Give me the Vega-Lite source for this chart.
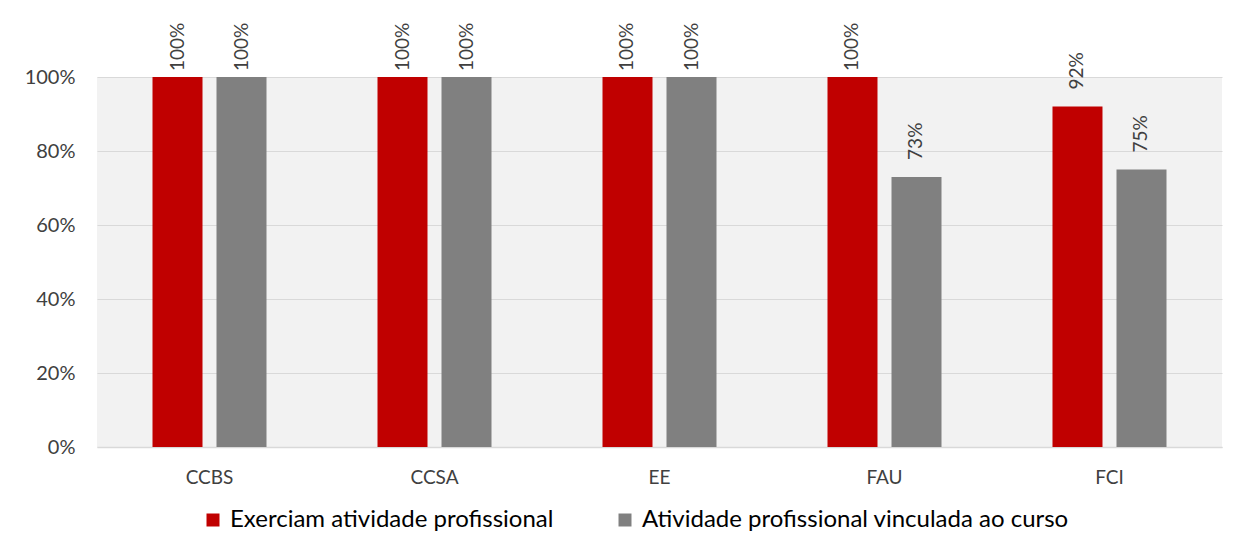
{
  "$schema": "https://vega.github.io/schema/vega-lite/v6.json",
  "autosize": {"type": "none"},
  "width": 1125,
  "height": 370,
  "padding": {"left": 97, "top": 77, "right": 19, "bottom": 107},
  "background": "white",
  "config": {
    "view": {"fill": "#f2f2f2", "stroke": null},
    "font": "Lato"
  },
  "data": {
    "values": [
      {"curso": "CCBS", "serie": "Exerciam atividade profissional", "valor": 1.0},
      {"curso": "CCBS", "serie": "Atividade profissional vinculada ao curso", "valor": 1.0},
      {"curso": "CCSA", "serie": "Exerciam atividade profissional", "valor": 1.0},
      {"curso": "CCSA", "serie": "Atividade profissional vinculada ao curso", "valor": 1.0},
      {"curso": "EE", "serie": "Exerciam atividade profissional", "valor": 1.0},
      {"curso": "EE", "serie": "Atividade profissional vinculada ao curso", "valor": 1.0},
      {"curso": "FAU", "serie": "Exerciam atividade profissional", "valor": 1.0},
      {"curso": "FAU", "serie": "Atividade profissional vinculada ao curso", "valor": 0.73},
      {"curso": "FCI", "serie": "Exerciam atividade profissional", "valor": 0.92},
      {"curso": "FCI", "serie": "Atividade profissional vinculada ao curso", "valor": 0.75}
    ]
  },
  "encoding": {
    "x": {
      "field": "curso", "type": "nominal", "sort": null,
      "scale": {"paddingInner": 0.4933, "paddingOuter": 0.2467},
      "axis": {
        "title": null, "labelAngle": 0, "labelFontSize": 19, "labelColor": "#404040",
        "labelPadding": 21, "ticks": false, "domainColor": "#d9d9d9", "domainWidth": 1.5,
        "labelFont": "Lato"
      }
    },
    "xOffset": {
      "field": "serie", "type": "nominal", "sort": ["Exerciam atividade profissional", "Atividade profissional vinculada ao curso"],
      "scale": {"paddingInner": 0.21875, "paddingOuter": 0}
    },
    "y": {
      "field": "valor", "type": "quantitative",
      "scale": {"domain": [0, 1], "nice": false},
      "axis": {
        "title": null, "format": ".0%", "values": [0, 0.2, 0.4, 0.6, 0.8, 1.0],
        "labelFontSize": 20, "labelColor": "#404040", "labelPadding": 22,
        "ticks": false, "domain": false, "gridColor": "#d9d9d9", "gridWidth": 1
      }
    }
  },
  "layer": [
    {
      "mark": {"type": "bar"},
      "encoding": {
        "color": {
          "field": "serie", "type": "nominal",
          "sort": ["Exerciam atividade profissional", "Atividade profissional vinculada ao curso"],
          "scale": {"range": ["#c00000", "#808080"]},
          "legend": {
            "title": null, "orient": "none", "direction": "horizontal",
            "legendX": 104, "legendY": 431,
            "symbolType": "square", "symbolSize": 169, "symbolStrokeWidth": 0,
            "labelFontSize": 24, "labelColor": "#000000", "labelFont": "Lato",
            "labelOffset": 5, "columnPadding": 59, "labelLimit": 700
          }
        }
      }
    },
    {
      "transform": [{"filter": "datum.valor < 1"}],
      "mark": {"type": "text", "angle": 270, "align": "left", "baseline": "middle", "dx": 17, "fontSize": 19, "color": "#404040"},
      "encoding": {"text": {"field": "valor", "type": "quantitative", "format": ".0%"}}
    },
    {
      "transform": [{"filter": "datum.valor >= 1"}],
      "mark": {"type": "text", "angle": 270, "align": "left", "baseline": "middle", "dx": 6, "fontSize": 19, "color": "#404040"},
      "encoding": {"text": {"field": "valor", "type": "quantitative", "format": ".0%"}}
    }
  ]
}
